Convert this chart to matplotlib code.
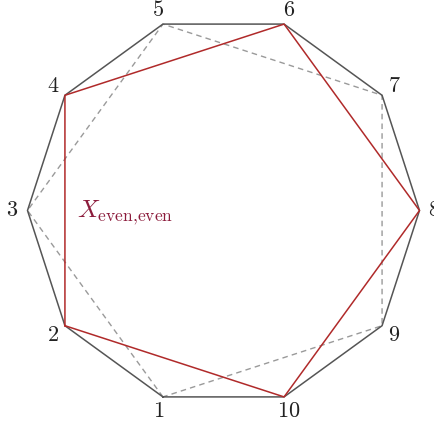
import numpy as np
import matplotlib
matplotlib.use("Agg")
import matplotlib.pyplot as plt

plt.rcParams['mathtext.fontset'] = 'cm'

# decagon vertices, numbered 1..10; vertex k sits at angle (8-k)*36 deg
vertex_labels = [1, 2, 3, 4, 5, 6, 7, 8, 9, 10]
even_cycle = [2, 4, 6, 8, 10]
odd_cycle = [1, 3, 5, 7, 9]
set_label = r'$X_{\mathrm{even{,}even}}$'

def pos(k, r=1.0):
    a = np.deg2rad((8 - k) * 36)
    return r * np.cos(a), r * np.sin(a)

fig = plt.figure(figsize=(4.34, 4.25), dpi=100)
ax = fig.add_axes([0, 0, 1, 1])
ax.set_xlim(-223.5 / 196, (434 - 223.5) / 196)
ax.set_ylim(-(425 - 210.5) / 196, 210.5 / 196)
ax.axis('off')

# outer decagon
xs, ys = zip(*[pos(k) for k in vertex_labels + [vertex_labels[0]]])
ax.plot(xs, ys, color='#555555', lw=1.1, zorder=2)

# odd cycle, dashed
xs, ys = zip(*[pos(k) for k in odd_cycle + [odd_cycle[0]]])
ax.plot(xs, ys, color='#9a9a9a', lw=1.0, ls=(0, (4, 3)), zorder=1)

# even cycle, red
xs, ys = zip(*[pos(k) for k in even_cycle + [even_cycle[0]]])
ax.plot(xs, ys, color='#b02a2a', lw=1.1, zorder=3)

for k in vertex_labels:
    x, y = pos(k, 1.0 + 15 / 196)
    ax.text(x, y, '$%d$' % k, fontsize=16, ha='center', va='center', color='#222222')

x4, _ = pos(4)
ax.text(x4 + 12 / 196, -2 / 196, set_label, fontsize=18, ha='left', va='center', color='#8c1c3c')

fig.savefig('out.png', dpi=100)
